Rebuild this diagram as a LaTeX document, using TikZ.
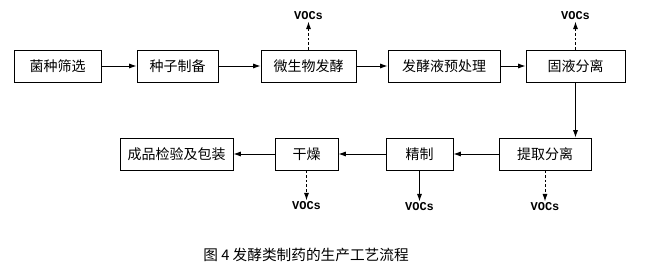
\documentclass[tikz,border=0pt]{standalone}
\usepackage{fontspec}
\newfontfamily\cjk{Noto Sans CJK SC}
\newfontfamily\vocfont{Liberation Mono}
\usetikzlibrary{arrows.meta,positioning}

\begin{document}
\begin{tikzpicture}[x=0.75pt, y=-0.75pt, >={Latex[length=5.5pt,width=3.8pt]},
        box/.style={draw, rectangle, line width=0.7pt, minimum height=24pt, inner sep=0pt, font=\cjk\fontsize{10.5}{12}\selectfont},
        flow/.style={->, line width=0.7pt},
        vent/.style={->, line width=0.7pt, dash pattern=on 2pt off 1.5pt},
        voc/.style={inner sep=1pt, font=\vocfont\bfseries\fontsize{9}{10}\selectfont}]
        \useasboundingbox (0,0) rectangle (661,267);

        % Upper row
        \node[box, minimum width=65.25pt] (screen) at (57.5, 66) {菌种筛选};
        \node[box, minimum width=60.75pt] (seed) at (177.5, 66) {种子制备};
        \node[box, minimum width=71.25pt] (ferm) at (308.5, 66) {微生物发酵};
        \node[box, minimum width=84pt] (pretreat) at (444, 66) {发酵液预处理};
        \node[box, minimum width=74.25pt] (solid) at (575.5, 66) {固液分离};

        % Lower row
        \node[box, minimum width=69pt] (extract) at (545, 154) {提取分离};
        \node[box, minimum width=50.25pt] (refine) at (419.5, 154) {精制};
        \node[box, minimum width=47.25pt] (dry) at (306.5, 154) {干燥};
        \node[box, minimum width=84.75pt] (pack) at (176.5, 154) {成品检验及包装};

        % Emissions
        \node[voc] (vocferm) at (308.5, 16) {VOCs};
        \node[voc] (vocsolid) at (575.5, 16) {VOCs};
        \node[voc] (vocdry) at (306.5, 206) {VOCs};
        \node[voc] (vocrefine) at (419.5, 207) {VOCs};
        \node[voc] (vocextract) at (545, 207) {VOCs};

        % Caption
        \node[font=\cjk\fontsize{11}{13}\selectfont] (caption) at (306, 255) {图 4\ 发酵类制药的生产工艺流程};

        % Main flow
        \draw[flow] (screen) -- (seed);
        \draw[flow] (seed) -- (ferm);
        \draw[flow] (ferm) -- (pretreat);
        \draw[flow] (pretreat) -- (solid);
        \draw[flow] (solid.south) -- (solid.south |- extract.north);
        \draw[flow] (extract) -- (refine);
        \draw[flow] (refine) -- (dry);
        \draw[flow] (dry) -- (pack);

        % VOCs release
        \draw[vent] (ferm) -- (vocferm);
        \draw[vent] (solid) -- (vocsolid);
        \draw[vent] (dry) -- (vocdry);
        \draw[flow] (refine) -- (vocrefine);
        \draw[vent] (extract) -- (vocextract);
    \end{tikzpicture}
\end{document}
